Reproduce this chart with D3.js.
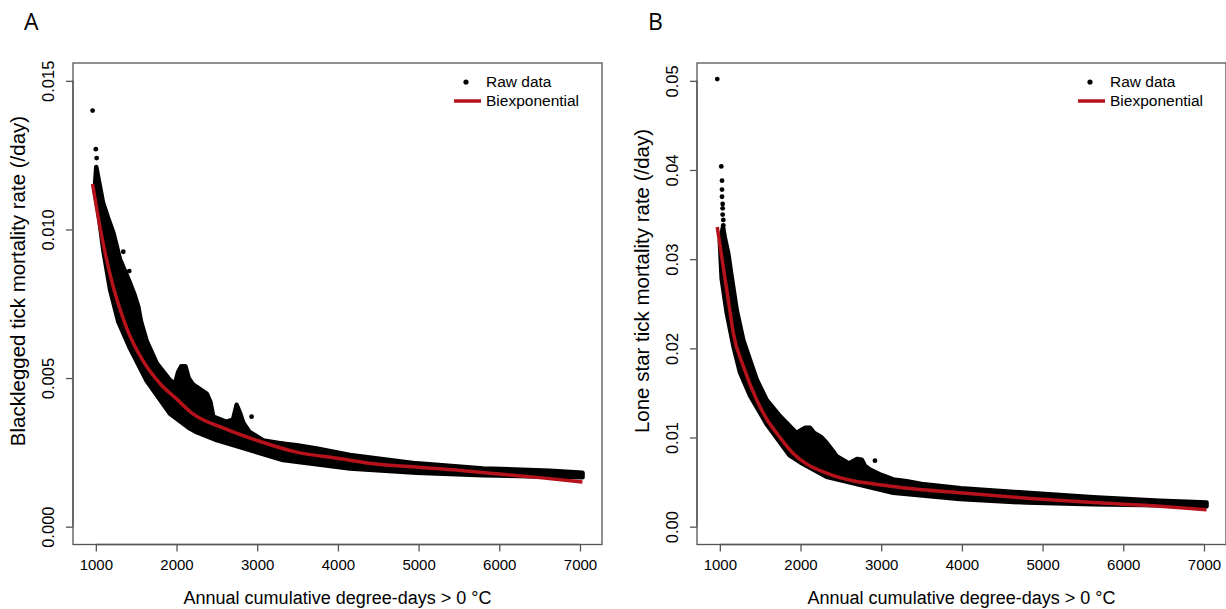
<!DOCTYPE html>
<html>
<head>
<meta charset="utf-8">
<script src="https://cdn.jsdelivr.net/npm/d3@7"></script>
<style>
  body { margin: 0; background: #fff; }
  svg { display: block; }
  text { font-family: "Liberation Sans", Arial, sans-serif; fill: #000; }
  .panel-letter { font-family: "Open Sans", "Liberation Sans", sans-serif; font-size: 23px; }
</style>
</head>
<body>
<div id="chart"></div>
<script>
// x ticks (shared)
var xTicks = [1000, 2000, 3000, 4000, 5000, 6000, 7000];

// panel A: blacklegged tick
var aTicks = [0.000, 0.005, 0.010, 0.015];
var aFit = [[960, 0.01153], [1050, 0.0101], [1175, 0.0085], [1380, 0.0067], [1580, 0.0056],
  [1800, 0.0048], [2000, 0.0043], [2200, 0.0038], [2600, 0.0033], [3000, 0.0029],
  [3500, 0.0025], [4000, 0.0023], [4500, 0.0021], [5000, 0.0020], [5500, 0.0019],
  [6000, 0.00177], [6500, 0.00165], [7030, 0.0015]];
// upper / lower edge of the dense raw-data cloud
var aUpper = [[1005, 0.0121], [1040, 0.0116], [1089, 0.0109], [1150, 0.0104], [1216, 0.0099],
  [1299, 0.0090], [1423, 0.0082], [1480, 0.0078], [1526, 0.0074], [1560, 0.0069],
  [1630, 0.00625], [1754, 0.0055], [1919, 0.00493], [1980, 0.0048], [2020, 0.0052],
  [2060, 0.0054], [2110, 0.0054], [2150, 0.0050], [2200, 0.0048], [2250, 0.0047],
  [2373, 0.00448], [2420, 0.0042], [2455, 0.0037], [2620, 0.00353], [2700, 0.0036],
  [2745, 0.0041], [2790, 0.0038], [2827, 0.0035], [2900, 0.0032], [3075, 0.0029],
  [3303, 0.0028], [3489, 0.00274], [3736, 0.00263], [4149, 0.00241], [4975, 0.00213],
  [5800, 0.00196], [6627, 0.00188], [7032, 0.00181]];
var aLower = [[985, 0.0113], [1030, 0.0106], [1093, 0.0093], [1175, 0.0080], [1278, 0.0069],
  [1423, 0.0060], [1630, 0.0049], [1919, 0.0038], [2167, 0.0033], [2250, 0.00318],
  [2497, 0.00291], [3319, 0.00224], [4149, 0.00196], [4975, 0.00181], [5797, 0.00173],
  [6627, 0.00168], [7032, 0.00166]];
var aOutliers = [[960, 0.0140], [1000, 0.0127], [1010, 0.0124], [1340, 0.00925], [1330, 0.0086],
  [1414, 0.0086], [2930, 0.0037], [3303, 0.0028]];

// panel B: lone star tick
var bTicks = [0.00, 0.01, 0.02, 0.03, 0.04, 0.05];
var bFit = [[968, 0.0336], [1043, 0.0291], [1105, 0.0254], [1167, 0.0217], [1291, 0.018],
  [1457, 0.0142], [1600, 0.0118], [1704, 0.0105], [1910, 0.0082], [2323, 0.0060],
  [3149, 0.0045], [3975, 0.0038], [4802, 0.0032], [5627, 0.0027], [6453, 0.0023], [7032, 0.0019]];
var bUpper = [[1040, 0.0336], [1060, 0.0325], [1105, 0.0306], [1147, 0.028], [1209, 0.0243],
  [1291, 0.0209], [1374, 0.0187], [1457, 0.0165], [1580, 0.0142], [1745, 0.0124],
  [1951, 0.0105], [2000, 0.0108], [2060, 0.0111], [2117, 0.0111], [2170, 0.0105],
  [2250, 0.0101], [2323, 0.0094], [2400, 0.0085], [2447, 0.0079], [2600, 0.0071],
  [2700, 0.0076], [2760, 0.0075], [2800, 0.0068], [2860, 0.0064], [3000, 0.0058],
  [3149, 0.0053], [3315, 0.0051], [3500, 0.0048], [3986, 0.0043], [4802, 0.0038],
  [5627, 0.0033], [6453, 0.0029], [7032, 0.0027]];
var bLower = [[1000, 0.0320], [1023, 0.0278], [1085, 0.0240], [1167, 0.0203], [1250, 0.0173],
  [1374, 0.0147], [1580, 0.0115], [1865, 0.0080], [2000, 0.0072], [2323, 0.0056],
  [3149, 0.0038], [3975, 0.0031], [4802, 0.0027], [5627, 0.0025], [6453, 0.0024], [7032, 0.0023]];
var bOutliers = [[968, 0.0502], [1018, 0.0404], [1027, 0.0388], [1027, 0.0378], [1027, 0.0370],
  [1035, 0.0362], [1035, 0.0357], [1035, 0.0350], [1043, 0.0344], [1043, 0.0338], [2922, 0.0074]];

var width = 1226, height = 609;
var svg = d3.select("#chart").append("svg")
  .attr("width", width)
  .attr("height", height);

function drawPanel(opt) {
  var x = d3.scaleLinear().domain([717, 7273]).range([opt.left, opt.left + 529]);
  var y = d3.scaleLinear().domain(opt.yDomain).range([544.5, 63]);

  var g = svg.append("g");

  // raw data cloud
  var cloud = opt.upper.concat(opt.lower.slice().reverse());
  var poly = d3.line()
    .x(function(d) { return x(d[0]); })
    .y(function(d) { return y(d[1]); })
    .curve(d3.curveLinearClosed);
  g.append("path")
    .attr("d", poly(cloud))
    .attr("fill", "#000")
    .attr("stroke", "#000")
    .attr("stroke-width", 4.5)
    .attr("stroke-linejoin", "round");

  g.selectAll("circle.pt")
    .data(opt.outliers)
    .enter().append("circle")
    .attr("class", "pt")
    .attr("cx", function(d) { return x(d[0]); })
    .attr("cy", function(d) { return y(d[1]); })
    .attr("r", 2.4)
    .attr("fill", "#000");

  // biexponential fit
  var fitLine = d3.line()
    .x(function(d) { return x(d[0]); })
    .y(function(d) { return y(d[1]); })
    .curve(d3.curveMonotoneX);
  g.append("path")
    .attr("d", fitLine(opt.fit))
    .attr("fill", "none")
    .attr("stroke", "#b5121b")
    .attr("stroke-width", 3.5);

  // box
  g.append("rect")
    .attr("x", opt.left).attr("y", 63)
    .attr("width", 529).attr("height", 481.5)
    .attr("fill", "none")
    .attr("stroke", "#555")
    .attr("stroke-width", 1.3);

  // axes
  var xAxis = d3.axisBottom(x).tickValues(xTicks).tickSize(7).tickPadding(8)
    .tickFormat(d3.format("d"));
  var gx = g.append("g")
    .attr("transform", "translate(0,544.5)")
    .call(xAxis);
  gx.select(".domain").attr("stroke", "#555").attr("stroke-width", 1.3)
    .attr("d", "M" + x(1000) + ",0H" + x(7000));
  gx.selectAll(".tick line").attr("stroke", "#555").attr("stroke-width", 1.3);
  gx.selectAll(".tick text").attr("font-size", 15).attr("font-family", "Liberation Sans, Arial, sans-serif");

  var yAxis = d3.axisLeft(y).tickValues(opt.ticks).tickSize(7)
    .tickFormat(d3.format(opt.fmt));
  var gy = g.append("g")
    .attr("transform", "translate(" + opt.left + ",0)")
    .call(yAxis);
  gy.select(".domain").attr("stroke", "#555").attr("stroke-width", 1.3)
    .attr("d", "M0," + y(opt.ticks[0]) + "V" + y(opt.ticks[opt.ticks.length - 1]));
  gy.selectAll(".tick line").attr("stroke", "#555").attr("stroke-width", 1.3);
  gy.selectAll(".tick text")
    .attr("font-size", 16.5).attr("font-family", "Liberation Sans, Arial, sans-serif")
    .attr("x", null).attr("dy", null)
    .attr("text-anchor", "middle")
    .attr("transform", "translate(-19,0) rotate(-90)");

  // titles
  g.append("text")
    .attr("x", opt.left + 264.5).attr("y", 604)
    .attr("text-anchor", "middle")
    .attr("font-size", 18)
    .text("Annual cumulative degree-days > 0 °C");
  g.append("text")
    .attr("transform", "translate(" + (opt.left - 48) + ",281) rotate(-90)")
    .attr("text-anchor", "middle")
    .attr("font-size", 20.5)
    .text(opt.yTitle);

  g.append("text")
    .attr("class", "panel-letter")
    .attr("x", opt.left - 49).attr("y", 30)
    .text(opt.letter);

  // legend
  var lx = opt.left + 529;
  g.append("circle").attr("cx", lx - 136).attr("cy", 82).attr("r", 2.6).attr("fill", "#000");
  g.append("line")
    .attr("x1", lx - 148).attr("x2", lx - 121)
    .attr("y1", 101).attr("y2", 101)
    .attr("stroke", "#b5121b").attr("stroke-width", 3.5);
  g.append("text").attr("x", lx - 116).attr("y", 82).attr("dy", "0.35em")
    .attr("font-size", 15.5).text("Raw data");
  g.append("text").attr("x", lx - 116).attr("y", 101).attr("dy", "0.35em")
    .attr("font-size", 15.5).text("Biexponential");
}

drawPanel({
  left: 73, letter: "A", yDomain: [-0.0006, 0.0156], ticks: aTicks, fmt: ".3f",
  fit: aFit, upper: aUpper, lower: aLower, outliers: aOutliers,
  yTitle: "Blacklegged tick mortality rate (/day)"
});
drawPanel({
  left: 697, letter: "B", yDomain: [-0.002, 0.052], ticks: bTicks, fmt: ".2f",
  fit: bFit, upper: bUpper, lower: bLower, outliers: bOutliers,
  yTitle: "Lone star tick mortality rate (/day)"
});
</script>
</body>
</html>
